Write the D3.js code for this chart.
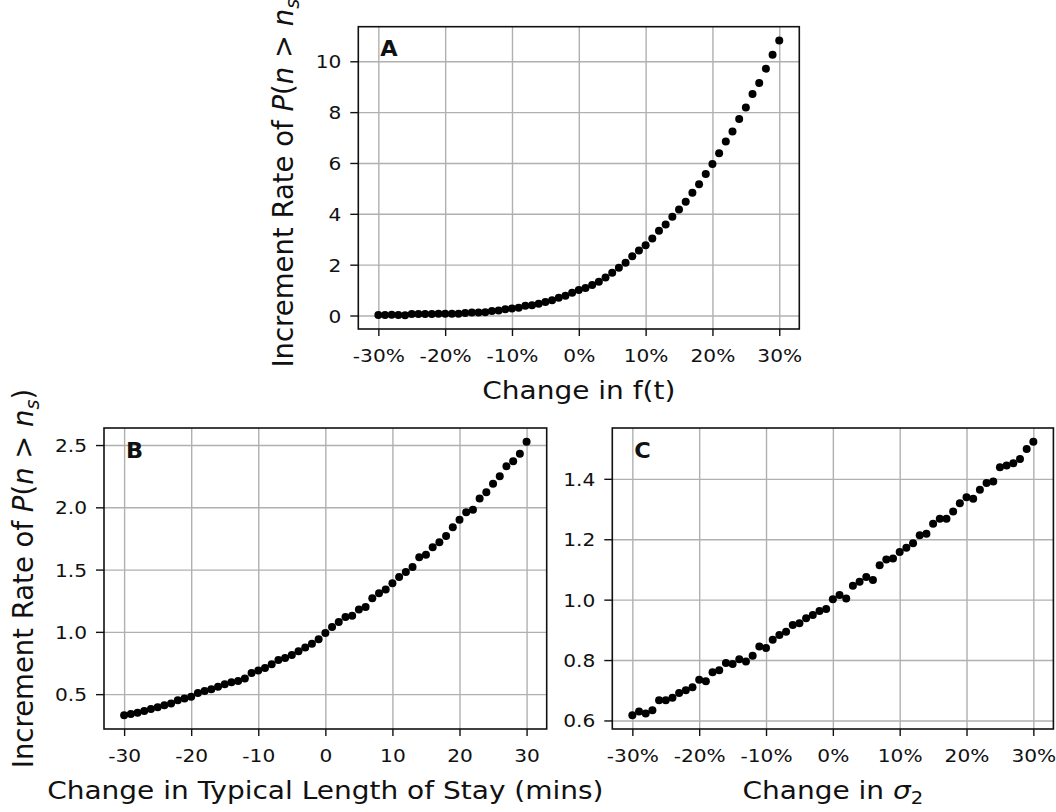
<!DOCTYPE html>
<html>
<head>
<meta charset="utf-8">
<script src="https://cdn.jsdelivr.net/npm/d3@7"></script>
<style>
  body { margin: 0; background: #fff; }
  text { font-family: "DejaVu Sans", sans-serif; fill: #111; }
</style>
</head>
<body>
<script>
// x steps shared by all three panels
var steps = [-30,-29,-28,-27,-26,-25,-24,-23,-22,-21,-20,-19,-18,-17,-16,-15,-14,-13,-12,-11,
  -10,-9,-8,-7,-6,-5,-4,-3,-2,-1,0,1,2,3,4,5,6,7,8,9,10,11,12,13,14,15,16,17,18,19,20,
  21,22,23,24,25,26,27,28,29,30];

// A: change in f(t)
var rateA = [0.02,0.02,0.03,0.02,0.01,0.06,0.06,0.06,0.06,0.07,0.07,0.07,0.07,0.10,0.12,0.12,0.13,0.18,0.20,0.25,
  0.28,0.31,0.38,0.40,0.46,0.53,0.60,0.70,0.78,0.90,1.00,1.08,1.20,1.33,1.50,1.68,1.88,2.08,2.33,2.56,2.76,
  3.03,3.33,3.58,3.88,4.17,4.47,4.83,5.16,5.57,5.96,6.38,6.84,7.24,7.73,8.18,8.71,9.15,9.71,10.26,10.82];

// B: change in typical length of stay (mins)
var rateB = [0.33,0.34,0.35,0.365,0.38,0.395,0.41,0.425,0.45,0.465,0.48,0.51,0.525,0.54,0.56,0.58,0.595,0.605,0.625,0.67,
  0.69,0.71,0.74,0.775,0.79,0.815,0.845,0.875,0.905,0.94,0.99,1.04,1.08,1.12,1.13,1.18,1.20,1.27,1.31,1.34,1.39,
  1.44,1.48,1.52,1.60,1.62,1.68,1.72,1.77,1.84,1.90,1.96,1.98,2.07,2.12,2.19,2.25,2.33,2.37,2.43,2.527];

// C: change in sigma_2
var rateC = [0.617,0.63,0.623,0.634,0.667,0.667,0.675,0.691,0.70,0.71,0.735,0.73,0.76,0.766,0.79,0.787,0.803,0.795,0.814,0.845,
  0.84,0.867,0.883,0.894,0.916,0.922,0.938,0.949,0.962,0.969,1.001,1.015,1.004,1.046,1.059,1.075,1.065,1.114,1.133,1.136,1.158,
  1.172,1.187,1.213,1.218,1.251,1.268,1.268,1.292,1.319,1.339,1.334,1.364,1.386,1.391,1.438,1.444,1.452,1.466,1.499,1.523];

var xTicks = [-30,-20,-10,0,10,20,30];
var yTicksA = [0,2,4,6,8,10];
var yTicksB = [0.5,1.0,1.5,2.0,2.5];
var yTicksC = [0.6,0.8,1.0,1.2,1.4];

var SX = 1.12; // horizontal text in the picture is a bit wide

var svg = d3.select("body").append("svg")
    .attr("width", 1056)
    .attr("height", 812);

svg.append("rect").attr("width", 1056).attr("height", 812).attr("fill", "#fff");

// matplotlib style 5% margin
function pad(vals) {
  var lo = d3.min(vals), hi = d3.max(vals), r = hi - lo;
  return [lo - r * 0.05, hi + r * 0.05];
}

function drawPanel(p) {
  var g = svg.append("g");
  var x = d3.scaleLinear().domain(pad(steps)).range([p.left, p.right]);
  var y = d3.scaleLinear().domain(pad(p.values)).range([p.bottom, p.top]);
  var h = p.bottom - p.top, w = p.right - p.left;

  // grid
  var gx = g.append("g")
      .attr("transform", "translate(0," + p.bottom + ")")
      .call(d3.axisBottom(x).tickValues(xTicks).tickSize(-h).tickFormat(""));
  var gy = g.append("g")
      .attr("transform", "translate(" + p.left + ",0)")
      .call(d3.axisLeft(y).tickValues(p.yTicks).tickSize(-w).tickFormat(""));
  g.selectAll(".domain").remove();
  gx.selectAll("line").attr("stroke", "#b0b0b0").attr("stroke-width", 1.4);
  gy.selectAll("line").attr("stroke", "#b0b0b0").attr("stroke-width", 1.4);

  // points
  g.append("g").selectAll("circle")
      .data(p.values)
      .enter().append("circle")
      .attr("cx", function(d, i) { return x(steps[i]); })
      .attr("cy", function(d) { return y(d); })
      .attr("r", 4)
      .attr("fill", "#000");

  // frame
  g.append("rect")
      .attr("x", p.left).attr("y", p.top)
      .attr("width", w).attr("height", h)
      .attr("fill", "none")
      .attr("stroke", "#111")
      .attr("stroke-width", 1.6);

  // tick marks + labels
  var ax = g.append("g")
      .attr("transform", "translate(0," + p.bottom + ")")
      .call(d3.axisBottom(x).tickValues(xTicks).tickSize(7).tickFormat(p.xFmt));
  ax.select(".domain").remove();
  ax.selectAll("line").attr("stroke", "#111").attr("stroke-width", 1.4);
  ax.selectAll("text")
      .attr("y", null).attr("dy", null)
      .attr("transform", "translate(0,33) scale(" + SX + ",1)")
      .attr("font-size", 18)
      .attr("fill", "#111");

  var ay = g.append("g")
      .attr("transform", "translate(" + p.left + ",0)")
      .call(d3.axisLeft(y).tickValues(p.yTicks).tickSize(8).tickFormat(p.yFmt));
  ay.select(".domain").remove();
  ay.selectAll("line").attr("stroke", "#111").attr("stroke-width", 1.4);
  ay.selectAll("text")
      .attr("x", null).attr("dy", "0.36em")
      .attr("transform", "translate(-17,0) scale(" + SX + ",1)")
      .attr("font-size", 18)
      .attr("fill", "#111");

  // panel letter
  g.append("text")
      .attr("transform", "translate(" + (p.left + 22) + "," + (p.top + 29.5) + ") scale(1.07,1)")
      .attr("font-size", 21)
      .attr("font-weight", "bold")
      .text(p.letter);

  // x label
  var xl = g.append("text")
      .attr("transform", "translate(" + ((p.left + p.right) / 2) + "," + (p.bottom + 70) + ") scale(" + SX + ",1)")
      .attr("text-anchor", "middle")
      .attr("font-size", 25);
  p.xLabel(xl);

  // y label
  if (p.yLabelX != null) {
    var yl = g.append("text")
        .attr("transform", "translate(" + p.yLabelX + "," + ((p.top + p.bottom) / 2) + ") rotate(-90)")
        .attr("text-anchor", "middle")
        .attr("font-size", 27.5);
    yl.append("tspan").text("Increment Rate of ");
    yl.append("tspan").attr("font-style", "italic").text("P");
    yl.append("tspan").text("(");
    yl.append("tspan").attr("font-style", "italic").text("n");
    yl.append("tspan").text(" > ");
    yl.append("tspan").attr("font-style", "italic").text("n");
    yl.append("tspan").attr("font-style", "italic").attr("font-size", 19).attr("dy", 6).text("s");
    yl.append("tspan").attr("dy", -6).text(")");
  }
}

var pctFmt = function(d) { return d + "%"; };

drawPanel({
  left: 358.3, right: 799.3, top: 26.7, bottom: 329,
  values: rateA, yTicks: yTicksA, letter: "A",
  xFmt: pctFmt, yFmt: d3.format("d"),
  yLabelX: 293,
  xLabel: function(t) { t.text("Change in f(t)"); }
});

drawPanel({
  left: 104, right: 546.7, top: 428, bottom: 729,
  values: rateB, yTicks: yTicksB, letter: "B",
  xFmt: function(d) { return String(d); }, yFmt: d3.format(".1f"),
  yLabelX: 33,
  xLabel: function(t) { t.text("Change in Typical Length of Stay (mins)"); }
});

drawPanel({
  left: 612.3, right: 1053.4, top: 428, bottom: 729,
  values: rateC, yTicks: yTicksC, letter: "C",
  xFmt: pctFmt, yFmt: d3.format(".1f"),
  yLabelX: null,
  xLabel: function(t) {
    t.append("tspan").text("Change in ");
    t.append("tspan").attr("font-style", "italic").text("σ");
    t.append("tspan").attr("font-size", 17.5).attr("dy", 5).text("2");
  }
});
</script>
</body>
</html>
